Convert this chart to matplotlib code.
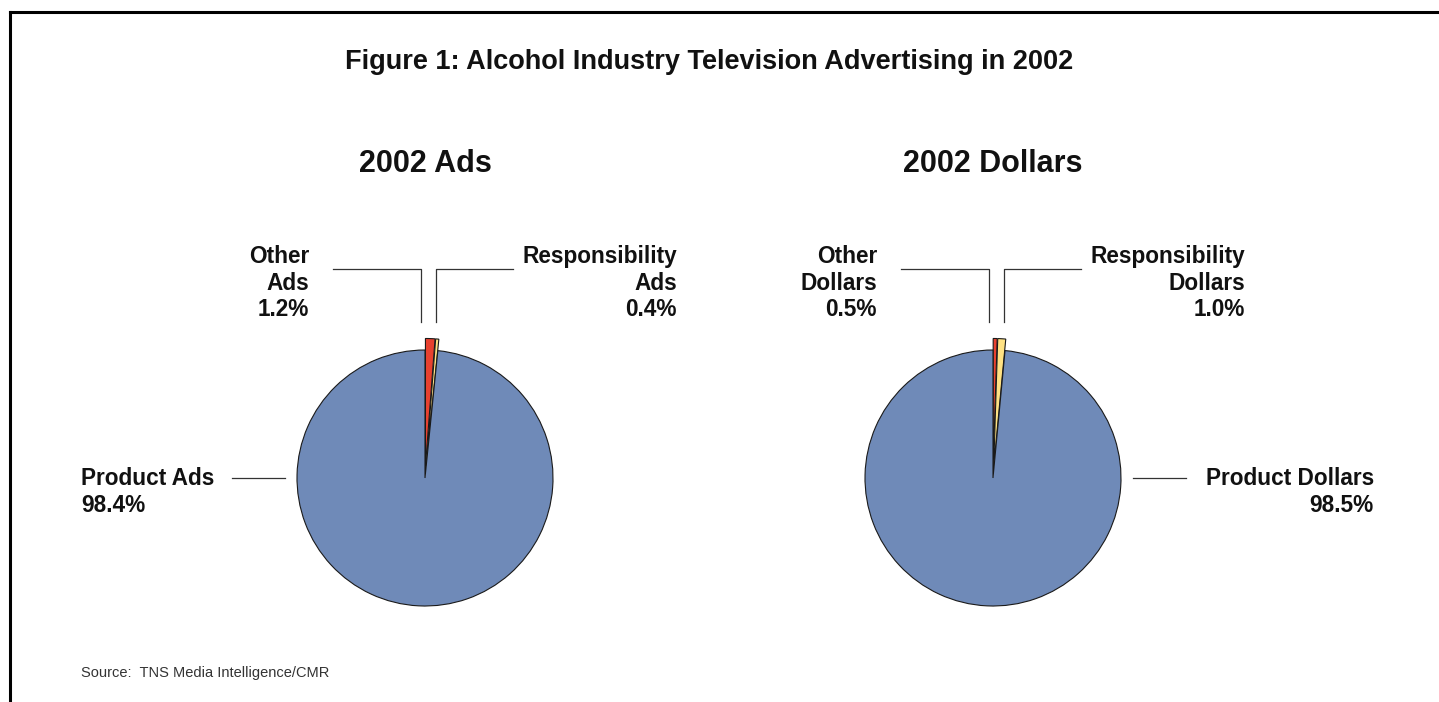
import matplotlib.pyplot as plt
from matplotlib.lines import Line2D

plt.rcParams['font.family'] = ['Liberation Sans', 'DejaVu Sans']

# data
title = 'Figure 1: Alcohol Industry Television Advertising in 2002'
pie_titles = ['2002 Ads', '2002 Dollars']
ads_labels = ['Other Ads', 'Responsibility Ads', 'Product Ads']
ads_values = [1.2, 0.4, 98.4]
dollar_labels = ['Other Dollars', 'Responsibility Dollars', 'Product Dollars']
dollar_values = [0.5, 1.0, 98.5]
colors = ['#E8412F', '#FFE283', '#6F8AB8']
source = 'Source:  TNS Media Intelligence/CMR'

W, H = 1439, 702
fig = plt.figure(figsize=(W / 100, H / 100), dpi=100)

# overlay axes in pixel coordinates for text, leaders and the frame
ov = fig.add_axes([0, 0, 1, 1])
ov.set_xlim(0, W)
ov.set_ylim(H, 0)
ov.axis('off')

R = 128
PAD = 1.25


def draw_pie(cx, cy, values):
    # axes sized so that radius 1 equals R pixels
    half = R * PAD
    ax = fig.add_axes([(cx - half) / W, (H - cy - half) / H, 2 * half / W, 2 * half / H])
    ax.pie(values, colors=colors, startangle=90, counterclock=False,
           explode=[0.09, 0.09, 0],
           wedgeprops=dict(edgecolor='#1a1a1a', linewidth=0.8))
    ax.set_xlim(-PAD, PAD)
    ax.set_ylim(-PAD, PAD)
    ax.set_aspect('equal')
    ax.axis('off')
    return ax


def leader(xs, ys):
    ov.add_line(Line2D(xs, ys, color='#333333', linewidth=0.9))


def split(name):
    parts = name.rsplit(' ', 1)
    return parts[0] + '\n' + parts[1]


lbl = dict(fontsize=16.3, fontweight='bold', color='#111111', linespacing=1.21)

# frame (top and left edges only visible)
ov.add_line(Line2D([10, W], [12, 12], color='black', linewidth=2.2))
ov.add_line(Line2D([10, 10], [12, H], color='black', linewidth=2.2))

ov.text(709, 62, title, ha='center', va='center', fontsize=19.5, fontweight='bold', color='#111111')

centers = [(425, 478), (993, 478)]
for (cx, cy), ptitle, names, vals in zip(centers, pie_titles,
                                         [ads_labels, dollar_labels],
                                         [ads_values, dollar_values]):
    draw_pie(cx, cy, vals)
    ov.text(cx, 164, ptitle, ha='center', va='center', fontsize=22, fontweight='bold', color='#111111')
    # small slices labels
    ov.text(cx - 116, 283, '%s\n%.1f%%' % (split(names[0]), vals[0]),
            ha='right', va='center', **lbl)
    leader([cx - 92, cx - 4, cx - 4], [269, 269, 322])
    ov.text(cx + 252, 283, '%s\n%.1f%%' % (split(names[1]), vals[1]),
            ha='right', va='center', **lbl)
    leader([cx + 11, cx + 11, cx + 88], [322, 269, 269])

# product labels
ov.text(81, 492, '%s\n%.1f%%' % (ads_labels[2], ads_values[2]), ha='left', va='center', **lbl)
leader([232, 285], [478, 478])
ov.text(1374, 492, '%s\n%.1f%%' % (dollar_labels[2], dollar_values[2]), ha='right', va='center', **lbl)
leader([1133, 1186], [478, 478])

ov.text(81, 673, source, ha='left', va='center', fontsize=10.5, color='#333333')

fig.savefig('out.png', dpi=100, facecolor='white')
